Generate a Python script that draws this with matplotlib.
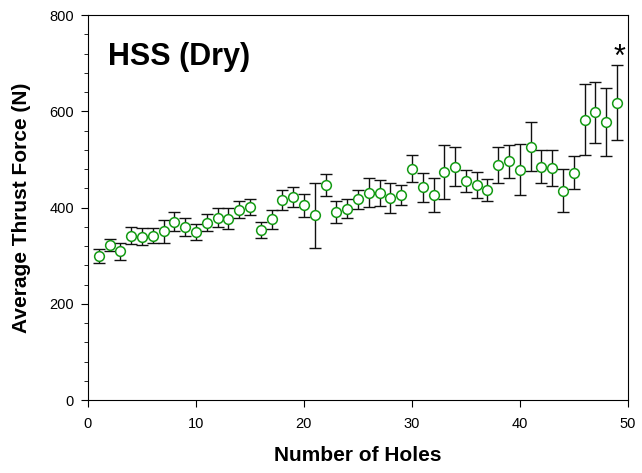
import matplotlib
matplotlib.use("Agg")
import matplotlib.pyplot as plt
from matplotlib.ticker import MultipleLocator

plt.rcParams['font.family'] = ['Liberation Sans', 'DejaVu Sans']

# hole number, mean thrust force (N), error (N)
holes = list(range(1, 50))
force = [300, 322, 309, 342, 340, 342, 351, 371, 360, 349,
         369, 379, 377, 396, 401, 353, 376, 416, 422, 405,
         384, 447, 391, 398, 417, 431, 431, 420, 426, 481,
         442, 426, 474, 485, 456, 448, 436, 489, 496, 479,
         527, 485, 482, 435, 473, 583, 598, 578, 618]
err = [15, 13, 18, 17, 17, 16, 24, 20, 18, 16,
       18, 20, 22, 18, 16, 17, 20, 20, 21, 24,
       68, 22, 22, 19, 20, 30, 27, 32, 21, 28,
       30, 35, 57, 40, 23, 27, 23, 37, 34, 53,
       50, 34, 37, 45, 34, 74, 63, 70, 78]

fig = plt.figure(figsize=(6.42, 4.73), dpi=100)
ax = fig.add_axes([0.137, 0.154, 0.841, 0.814])

ax.errorbar(holes, force, yerr=err, fmt='none', ecolor='#111111',
            elinewidth=1.0, capsize=4, capthick=1.0, zorder=2)
ax.plot(holes, force, 'o', markersize=7, markerfacecolor='white',
        markeredgecolor='#139a13', markeredgewidth=1.1, zorder=3)

ax.set_xlim(0, 50)
ax.set_ylim(0, 800)
ax.xaxis.set_major_locator(MultipleLocator(10))
ax.yaxis.set_major_locator(MultipleLocator(200))
ax.yaxis.set_minor_locator(MultipleLocator(40))
ax.tick_params(axis='both', which='major', direction='out', length=5,
               labelsize=10.5)
ax.tick_params(axis='x', pad=7)
ax.tick_params(axis='y', pad=5)
ax.tick_params(axis='y', which='minor', direction='out', length=3)

ax.set_xlabel('Number of Holes', fontsize=15, fontweight='bold')
ax.set_ylabel('Average Thrust Force (N)', fontsize=15, fontweight='bold')
ax.xaxis.set_label_coords(0.5, -0.119)
ax.yaxis.set_label_coords(-0.105, 0.5)

ax.text(1.85, 696, 'HSS (Dry)', fontsize=22, fontweight='bold', va='baseline')
ax.text(49.2, 712, '*', fontsize=22, ha='center', va='center')

fig.savefig('out.png', dpi=100)
